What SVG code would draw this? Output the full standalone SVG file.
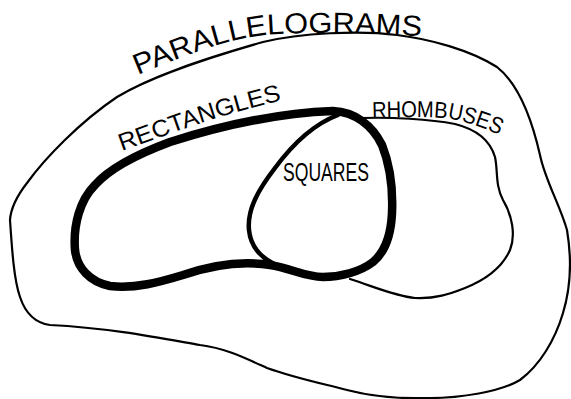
<svg xmlns="http://www.w3.org/2000/svg" width="571" height="399" viewBox="0 0 571 399">
<style>
.bg{fill:#ffffff}
.line{fill:none;stroke:#000000;stroke-linecap:round;stroke-linejoin:round}
.thin{stroke-width:2.2}
.mid{stroke-width:4.5}
.thick{stroke-width:8.5}
.lbl{font-family:"Liberation Sans","DejaVu Sans",sans-serif;fill:#000000}
</style>
<defs>
<path id="pPar" d="M 138,75 C 175,60 220,40 265,35 C 320,31 380,33 432,37"/>
<path id="pRec" d="M 122,151 C 170,134 220,114 288,99"/>
<path id="pRho" d="M 372,118 C 410,117 445,116 460,121 C 475,125 490,130 503,137"/>
</defs>
<rect class="bg" x="0" y="0" width="571" height="399"/>
<g id="parallelograms">
<path class="line thin" d="M 10,220 C 11,205 20,192 27,183 C 45,158 80,122 117,97 C 150,77 200,60 263,42 C 300,33 360,30 397,35 C 430,39 470,50 497,67 C 520,85 532,120 540,155 C 545,180 560,205 567,230 C 572,260 570,290 563,313 C 555,340 540,365 520,380 C 500,392 460,398 430,398 C 400,399 370,396 347,390 C 320,383 295,378 267,368 C 245,358 225,348 200,345 C 160,338 110,328 50,325 C 35,323 25,312 20,297 C 14,280 12,250 10,220 Z"/>
<text class="lbl" font-size="29"><textPath href="#pPar" textLength="290" lengthAdjust="spacingAndGlyphs">PARALLELOGRAMS</textPath></text>
</g>
<g id="rhombuses">
<path class="line thin" stroke-width="2.6" d="M 362,118 C 390,117 430,119 455,124 C 475,129 490,140 495,157 C 498,170 495,185 503,200 C 512,215 516,235 510,250 C 502,268 485,280 465,288 C 450,294 435,299 415,298 C 395,296 375,287 350,279"/>
<text class="lbl" font-size="23"><textPath href="#pRho" textLength="130" lengthAdjust="spacingAndGlyphs">RHOMBUSES</textPath></text>
</g>
<g id="squares">
<path class="line mid" d="M 338,115 C 314,124 292,145 275,168 C 258,190 247,210 249,230 C 251,250 265,263 290,270 C 305,275 320,277 335,277"/>
<text class="lbl" font-size="25" x="283" y="181" textLength="86" lengthAdjust="spacingAndGlyphs">SQUARES</text>
</g>
<g id="rectangles">
<path class="line thick" d="M 333,111 C 355,112 372,125 382,145 C 390,165 393,190 392,213 C 391,235 385,252 373,262 C 360,272 340,277 323,277 C 305,277 290,268 270,265 C 245,261 215,264 183,275 C 160,282 135,289 110,286 C 90,282 77,268 75,250 C 73,225 80,200 95,185 C 110,168 135,155 170,142 C 220,126 280,113 333,111 Z"/>
<text class="lbl" font-size="24"><textPath href="#pRec" textLength="168" lengthAdjust="spacingAndGlyphs">RECTANGLES</textPath></text>
</g>
<g id="connectors"></g>
</svg>
